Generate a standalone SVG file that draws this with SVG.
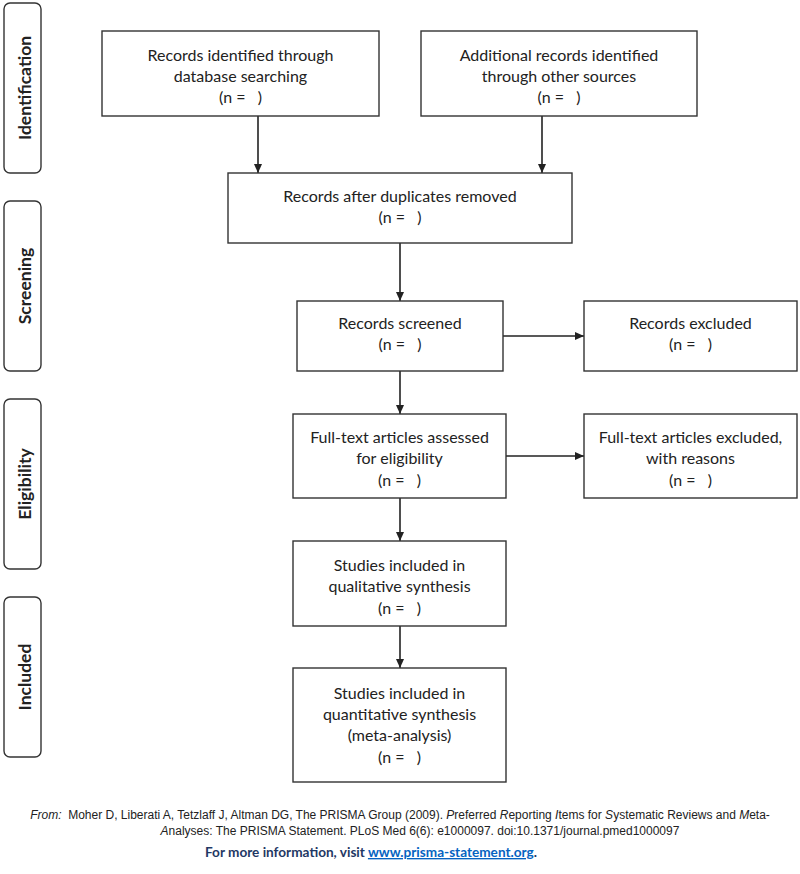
<svg xmlns="http://www.w3.org/2000/svg" width="800" height="874" viewBox="0 0 800 874">
<style>
.box{fill:#fff;stroke:#333;stroke-width:1.4}
.side{fill:#fff;stroke:#333;stroke-width:1.4}
.t{font-family:Lato,"Open Sans",sans-serif;font-size:16px;fill:#222;text-anchor:middle}
.s{font-family:Lato,"Open Sans",sans-serif;font-size:17.5px;font-weight:bold;fill:#222;text-anchor:middle}
.c{stroke:#222;stroke-width:1.6;fill:none;marker-end:url(#ah)}
.f{font-family:"Liberation Sans",Arial,sans-serif;font-size:12px;fill:#222;text-anchor:middle}
.i{font-style:italic}
.m{font-family:Lato,"Open Sans",sans-serif;font-size:13.6px;font-weight:bold;text-anchor:middle;fill:#1f3864}
</style>
<defs>
<marker id="ah" markerWidth="10" markerHeight="10" refX="9" refY="5" orient="auto" markerUnits="userSpaceOnUse">
<path d="M0,1 L9,5 L0,9 Z" fill="#222"/>
</marker>
</defs>
<rect width="800" height="874" fill="#fff"/>

<g id="side-identification"><rect class="side" x="4" y="3" width="37" height="170" rx="6"/><text class="s" transform="translate(31,88) rotate(-90)">Identification</text></g>
<g id="side-screening"><rect class="side" x="4" y="201" width="37" height="170" rx="6"/><text class="s" transform="translate(31,286) rotate(-90)">Screening</text></g>
<g id="side-eligibility"><rect class="side" x="4" y="399" width="37" height="170" rx="6"/><text class="s" transform="translate(31,484) rotate(-90)">Eligibility</text></g>
<g id="side-included"><rect class="side" x="4" y="597" width="37" height="160" rx="6"/><text class="s" transform="translate(31,677) rotate(-90)">Included</text></g>

<g id="connectors">
<path class="c" d="M258,116 V173"/>
<path class="c" d="M542,116 V173"/>
<path class="c" d="M400,243 V301"/>
<path class="c" d="M400,371 V414"/>
<path class="c" d="M400,498 V541"/>
<path class="c" d="M400,626 V668"/>
<path class="c" d="M503,336 H584"/>
<path class="c" d="M506,456 H584"/>
</g>

<g id="n1"><rect class="box" x="102" y="31" width="277" height="85"/>
<text class="t" x="240.5" y="61">Records identified through</text>
<text class="t" x="240.5" y="82">database searching</text>
<text class="t" x="240.5" y="103">(n =&#160;&#160;&#160;)</text></g>

<g id="n2"><rect class="box" x="421" y="31" width="276" height="85"/>
<text class="t" x="559" y="61">Additional records identified</text>
<text class="t" x="559" y="82">through other sources</text>
<text class="t" x="559" y="103">(n =&#160;&#160;&#160;)</text></g>

<g id="n3"><rect class="box" x="228" y="173" width="344" height="70"/>
<text class="t" x="400" y="202">Records after duplicates removed</text>
<text class="t" x="400" y="223">(n =&#160;&#160;&#160;)</text></g>

<g id="n4"><rect class="box" x="297" y="301" width="206" height="70"/>
<text class="t" x="400" y="329">Records screened</text>
<text class="t" x="400" y="350">(n =&#160;&#160;&#160;)</text></g>

<g id="n5"><rect class="box" x="584" y="301" width="213" height="70"/>
<text class="t" x="690.5" y="329">Records excluded</text>
<text class="t" x="690.5" y="350">(n =&#160;&#160;&#160;)</text></g>

<g id="n6"><rect class="box" x="293" y="414" width="213" height="84"/>
<text class="t" x="399.5" y="443">Full-text articles assessed</text>
<text class="t" x="399.5" y="464">for eligibility</text>
<text class="t" x="399.5" y="486">(n =&#160;&#160;&#160;)</text></g>

<g id="n7"><rect class="box" x="584" y="414" width="213" height="84"/>
<text class="t" x="690.5" y="443">Full-text articles excluded,</text>
<text class="t" x="690.5" y="464">with reasons</text>
<text class="t" x="690.5" y="486">(n =&#160;&#160;&#160;)</text></g>

<g id="n8"><rect class="box" x="293" y="541" width="213" height="85"/>
<text class="t" x="399.5" y="571">Studies included in</text>
<text class="t" x="399.5" y="592">qualitative synthesis</text>
<text class="t" x="399.5" y="614">(n =&#160;&#160;&#160;)</text></g>

<g id="n9"><rect class="box" x="293" y="668" width="213" height="114"/>
<text class="t" x="399.5" y="699">Studies included in</text>
<text class="t" x="399.5" y="720">quantitative synthesis</text>
<text class="t" x="399.5" y="741">(meta-analysis)</text>
<text class="t" x="399.5" y="763">(n =&#160;&#160;&#160;)</text></g>

<g id="footer">
<text class="f" x="400" y="819"><tspan class="i">From:</tspan>&#160; Moher D, Liberati A, Tetzlaff J, Altman DG, The PRISMA Group (2009). <tspan class="i">P</tspan>referred <tspan class="i">R</tspan>eporting <tspan class="i">I</tspan>tems for <tspan class="i">S</tspan>ystematic Reviews and <tspan class="i">M</tspan>eta-</text>
<text class="f" x="420" y="835"><tspan class="i">A</tspan>nalyses: The PRISMA Statement. PLoS Med 6(6): e1000097. doi:10.1371/journal.pmed1000097</text>
<text class="m" x="371" y="857">For more information, visit <tspan fill="#0563c1" text-decoration="underline">www.prisma-statement.org</tspan>.</text>
</g>
</svg>
